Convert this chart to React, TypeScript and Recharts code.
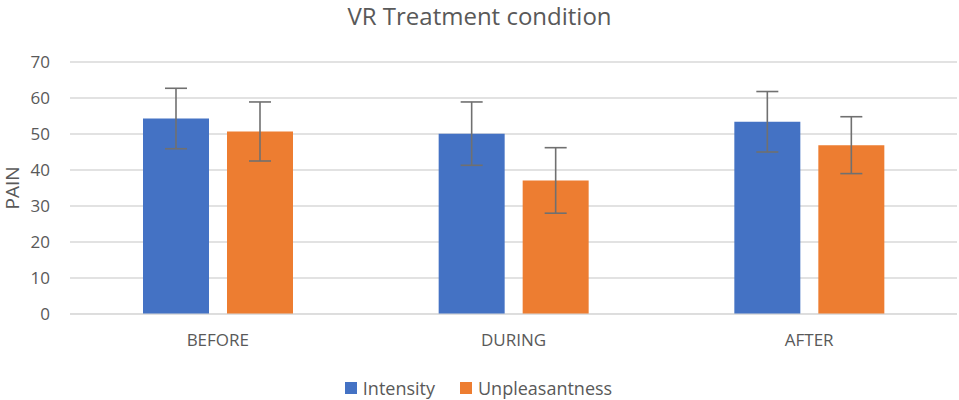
import React from "react";
import {
  BarChart,
  Bar,
  XAxis,
  YAxis,
  CartesianGrid,
  ErrorBar,
  Legend,
} from "recharts";

const phases = ["BEFORE", "DURING", "AFTER"];
const intensity = [54.3, 50.1, 53.4];
const intensityErr = [8.4, 8.8, 8.4];
const unpleasantness = [50.7, 37.1, 46.9];
const unpleasantnessErr = [8.2, 9.1, 7.9];
const yTicks = [0, 10, 20, 30, 40, 50, 60, 70];

const seriesNames = ["Intensity", "Unpleasantness"];
const seriesColors = ["#4472C4", "#ED7D31"];

const data = phases.map((phase, i) => ({
  phase,
  Intensity: intensity[i],
  intensityErr: intensityErr[i],
  Unpleasantness: unpleasantness[i],
  unpleasantnessErr: unpleasantnessErr[i],
}));

const FONT = "'Open Sans', 'Liberation Sans', sans-serif";
const TEXT = "#595959";

function LegendBox() {
  return (
    <div
      style={{
        display: "flex",
        justifyContent: "center",
        alignItems: "center",
        marginTop: 12,
        fontSize: 18,
        fontFamily: FONT,
        color: TEXT,
      }}
    >
      {seriesNames.map((name, i) => (
        <div
          key={name}
          style={{
            display: "flex",
            alignItems: "center",
            marginRight: i === 0 ? 25 : 0,
          }}
        >
          <span
            style={{
              width: 12,
              height: 12,
              background: seriesColors[i],
              marginRight: 6,
              display: "inline-block",
            }}
          />
          <span>{name}</span>
        </div>
      ))}
    </div>
  );
}

export default function App() {
  return (
    <div
      style={{
        position: "absolute",
        left: 0,
        top: 0,
        width: 959,
        height: 400,
        background: "#fff",
        fontFamily: FONT,
      }}
    >
      <div
        style={{
          position: "absolute",
          top: 0,
          left: 0,
          width: 959,
          textAlign: "center",
          fontSize: 24,
          color: TEXT,
          lineHeight: "32px",
        }}
      >
        VR Treatment condition
      </div>
      <div
        style={{
          position: "absolute",
          left: 12,
          top: 188,
          transform: "translate(-50%, -50%) rotate(-90deg)",
          fontSize: 19,
          color: TEXT,
          lineHeight: "18px",
          whiteSpace: "nowrap",
          zIndex: 2,
        }}
      >
        PAIN
      </div>
      <BarChart
        width={959}
        height={400}
        data={data}
        margin={{ top: 62, right: 2, left: 0, bottom: 0 }}
        barGap={18}
        barSize={66}
      >
        <CartesianGrid vertical={false} stroke="#d9d9d9" strokeWidth={1.3} />
        <XAxis
          dataKey="phase"
          axisLine={{ stroke: "#d9d9d9" }}
          tickLine={false}
          tickSize={0}
          tickMargin={20}
          height={50}
          tick={{ fill: TEXT, fontSize: 17, fontFamily: FONT }}
        />
        <YAxis
          domain={[0, 70]}
          ticks={yTicks}
          axisLine={false}
          tickLine={false}
          tickSize={0}
          tickMargin={20}
          width={70}
          tick={{ fill: TEXT, fontSize: 17, fontFamily: FONT }}
        />
        <Legend
          verticalAlign="bottom"
          align="center"
          height={36}
          content={() => <LegendBox />}
        />
        <Bar dataKey="Intensity" fill={seriesColors[0]} isAnimationActive={false}>
          <ErrorBar
            dataKey="intensityErr"
            width={11}
            stroke="#707070"
            strokeWidth={1.6}
          />
        </Bar>
        <Bar dataKey="Unpleasantness" fill={seriesColors[1]} isAnimationActive={false}>
          <ErrorBar
            dataKey="unpleasantnessErr"
            width={11}
            stroke="#707070"
            strokeWidth={1.6}
          />
        </Bar>
      </BarChart>
    </div>
  );
}
